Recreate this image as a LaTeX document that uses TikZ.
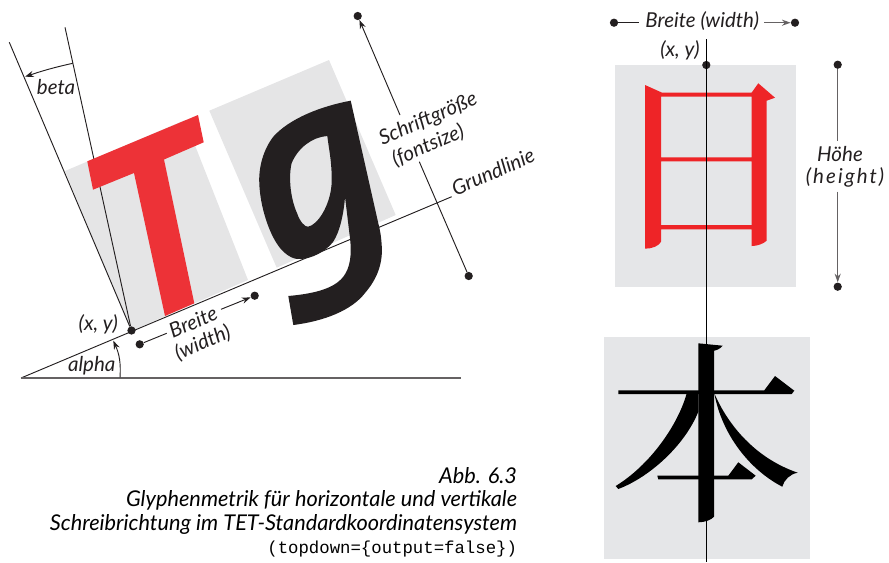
\documentclass[tikz,border=0pt]{standalone}
\usepackage{fontspec}
\setmainfont{Lato}
\newfontfamily\capmono{Liberation Mono}
\usetikzlibrary{arrows.meta}
\definecolor{ink}{HTML}{231F20}
\definecolor{tred}{HTML}{ED3237}
\definecolor{jred}{HTML}{EE2427}
\definecolor{lgray}{HTML}{E5E5E6}
\definecolor{rgray}{HTML}{E5E6E8}
\tikzset{
  dotnode/.style={circle,fill=ink,draw=none,minimum size=6.2pt,inner sep=0pt},
  thin line/.style={draw=ink,line width=0.7pt},
  soft line/.style={draw=ink!70,line width=0.8pt},
  arrowline/.style={thin line,-{Stealth[length=6.5pt,width=4.6pt]}},
  softarrow/.style={soft line,-{Stealth[length=6.5pt,width=4.6pt]}},
  lab/.style={inner sep=0pt,text=ink,font=\fontsize{15.4}{17}\selectfont\itshape},
  uplab/.style={lab,rotate=23.5},
  caption/.style={inner sep=0pt,anchor=base east,text=black,font=\fontsize{16.3}{18}\selectfont\itshape},
}
\begin{document}
\begin{tikzpicture}[x=0.75pt,y=-0.75pt]
\useasboundingbox (0,0) rectangle (889,562);
% left: grey glyph boxes
\fill[lgray] (131,331) -- (65,171) -- (185,120) -- (248,280) -- cycle;
\fill[lgray] (209.3,110.7) -- (329,60) -- (395.7,215) -- (276.7,267.7) -- cycle;
% named points
\node[dotnode] (o) at (131.5,330.5) {};
\coordinate (base0) at (21,378);
\coordinate (baseE) at (451.7,196.7);
\coordinate (horE) at (461,378);
\coordinate (b1) at (9.3,42.3);
\coordinate (b2) at (65,27.3);
\draw[thin line] (base0) -- (baseE);
\draw[soft line] (base0) -- (horE);
\draw[thin line] (o) -- (b1);
\draw[thin line] (o) -- (b2);
% T
\fill[tred] (87.3,161.3) -- (198,115) -- (203.7,142.3) -- (164,159.5) -- (194.3,303.3) -- (165,316) -- (134,173) -- (93,189.7) -- cycle;
% g
\fill[ink,even odd rule]
  (350.7,100.7) .. controls (322,106) and (290,118) .. (273.3,136.7)
  .. controls (263,150) and (258.5,168) .. (259.3,183.3)
  .. controls (260,205) and (268,230) .. (276.7,243.3)
  .. controls (282,252) and (290,258) .. (297,259)
  .. controls (312,260) and (327,250) .. (333,242)
  .. controls (340,232) and (344,212) .. (345,196.7)
  -- (350,238.3) .. controls (352,255) and (350,268) .. (343.3,276.7)
  .. controls (333,290) and (310,294) .. (288.3,296)
  -- (293.3,325)
  .. controls (325,321) and (352,310) .. (365,293)
  .. controls (378,278) and (383,262) .. (381.7,245)
  .. controls (381,235) and (380,230) .. (378.3,223.3) -- cycle
  (327.3,136) .. controls (312,137) and (298,148) .. (291.7,163)
  .. controls (288,178) and (291,200) .. (297,213)
  .. controls (300,222) and (305,227) .. (308,226.7)
  .. controls (318,225) and (330,205) .. (331.5,185)
  .. controls (332.5,165) and (329,150) .. (327.3,136) -- cycle;
% left labels and dots
\node[lab] (xyL) at (98.3,324) {(x, y)};
\node[lab] (alphaL) at (91.7,366) {alpha};
\node[lab] (betaL) at (56,87.3) {beta};
\coordinate (aS) at (120,377.5);
\coordinate (aE) at (113.3,340.7);
\draw[arrowline] (aS) to[bend right=14] (aE);
\coordinate (bS) at (72.7,63.3);
\coordinate (bE) at (25,76.7);
\draw[arrowline] (bS) to[bend right=3] (bE);
\node[dotnode] (wL) at (139.7,344.3) {};
\node[dotnode] (wR) at (254.7,295.7) {};
\node[uplab] (breite) at (193,321.7) {Breite};
\node[uplab] (width) at (202.7,342.7) {(width)};
\coordinate (wLe) at (166.7,333.3);
\coordinate (wRs) at (221,309.3);
\draw[thin line] (wL) -- (wLe);
\draw[arrowline] (wRs) -- (wR);
\node[dotnode] (fT) at (357.7,16) {};
\node[dotnode] (fB) at (468.7,276) {};
\node[uplab] (schrift) at (428.3,119.3) {Schriftgröße};
\node[uplab] (fontsize) at (428,145.7) {(fontsize)};
\node[uplab] (grund) at (493,171.7) {Grundlinie};
\coordinate (fTs) at (400,115);
\coordinate (fBs) at (419.3,161.7);
\draw[arrowline] (fTs) -- (fT);
\draw[thin line] (fBs) -- (fB);
% right: grey boxes
\fill[rgray] (615,65) rectangle (796,286.7);
\fill[rgray] (604,336.7) rectangle (810,559.3);
% ri
\fill[jred,even odd rule]
  (645,85) -- (661.7,92.5) -- (751.7,92.5) -- (758.3,83.3) -- (775,97.7) -- (766.7,100.7)
  -- (766.7,240.7) .. controls (763,244) and (757,246) .. (751.7,246)
  -- (751.7,229.3) -- (661,229.3) -- (661,241.7)
  .. controls (659,246) and (652,248.7) .. (645,248.7) -- cycle
  (661,96.7) rectangle (751.7,157.3)
  (661,161.3) rectangle (751.7,225);
% ben
\fill[black]
  (698.3,343.3) -- (722.7,345.7) .. controls (720,349) and (716,350.5) .. (714,350.7)
  -- (714,516.7) .. controls (711,520) and (706,522) .. (698.3,522.3) -- cycle;
\fill[black] (618.3,390.3) -- (764.3,390.3) -- (775,376) -- (794.3,390.7) -- (791.7,394) -- (618.3,394) -- cycle;
\fill[black] (686.7,393.3) .. controls (678,425) and (650,465) .. (615.7,486)
  -- (618.3,489) .. controls (650,477) and (685,445) .. (698.3,411.7) -- (698.3,393.3) -- cycle;
\fill[black] (714.3,393.3) .. controls (728,425) and (755,458) .. (797.7,472.7)
  .. controls (790,474) and (784,480) .. (782.3,486.7)
  .. controls (750,470) and (722,435) .. (714.3,393.3) -- cycle;
\fill[black] (657.3,475.7) -- (728.3,475.7) -- (738.3,462.3) -- (755.7,475.7) -- (751.7,479.3) -- (658.3,479.3) -- cycle;
% right lines and labels
\node[dotnode] (xyR) at (706.3,65) {};
\coordinate (vT) at (706.3,39);
\coordinate (vB) at (706.3,562);
\draw[draw=black,line width=0.75pt] (vT) -- (vB);
\node[lab] (xyRl) at (680,50) {(x, y)};
\node[lab] (breiteR) at (702.3,20.7) {Breite (width)};
\node[dotnode] (rL) at (614,22.7) {};
\node[dotnode] (rR) at (795,22.7) {};
\coordinate (rLe) at (639.3,22.7);
\coordinate (rRs) at (764,22.7);
\draw[thin line] (rL) -- (rLe);
\draw[softarrow] (rRs) -- (rR);
\node[dotnode] (hT) at (837.7,64.7) {};
\node[dotnode] (hB) at (837.7,286.7) {};
\coordinate (hTe) at (837.7,140.7);
\coordinate (hBs) at (837.7,191.7);
\draw[soft line] (hT) -- (hTe);
\draw[softarrow] (hBs) -- (hB);
\node[lab] (hoehe) at (840,154) {Höhe};
\node[lab] (height) at (845,177.7) {\addfontfeature{LetterSpace=10}(height)};
% caption
\node[caption] (c1) at (517.3,483) {Abb. 6.3};
\node[caption] (c2) at (517.3,506.7) {Glyphenmetrik für horizontale und vertikale};
\node[caption] (c3) at (517.3,530.7) {Schreibrichtung im TET-Standardkoordinatensystem};
\node[caption,font=\fontsize{13}{16}\capmono] (c4) at (517.3,553) {(topdown=\{output=false\})};
\end{tikzpicture}
\end{document}
